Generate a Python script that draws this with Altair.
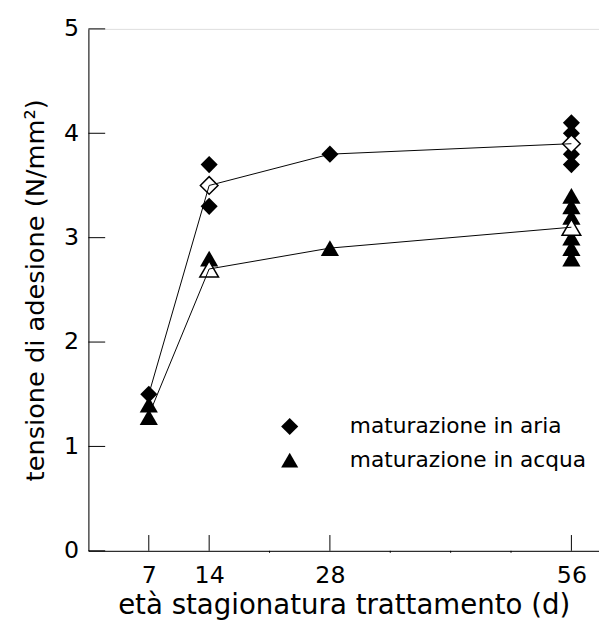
import altair as alt
import pandas as pd

# ---- data ----
series = ["maturazione in aria", "maturazione in acqua"]
aria_days = [7, 14, 14, 28, 56, 56, 56, 56]
aria_vals = [1.5, 3.7, 3.3, 3.8, 4.1, 4.0, 3.8, 3.7]
acqua_days = [7, 7, 14, 14, 28, 56, 56, 56, 56, 56, 56]
acqua_vals = [1.4, 1.28, 2.8, 2.7, 2.9, 3.4, 3.3, 3.2, 3.0, 2.9, 2.8]
mean_days = [7, 14, 28, 56]
aria_mean = [1.5, 3.5, 3.8, 3.9]
acqua_mean = [1.3, 2.7, 2.9, 3.1]
hollow_days = [14, 56]
x_labels = [7, 14, 28, 56]
x_minor = [21, 35, 42, 49]
y_ticks = [0, 1, 2, 3, 4, 5]

FONT = "DejaVu Sans"
W, H = 517.5, 529
DIA, TRI = 300, 340

aria = pd.DataFrame({"d": aria_days, "v": aria_vals, "s": series[0]})
acqua = pd.DataFrame({"d": acqua_days, "v": acqua_vals, "s": series[1]})
m_aria = pd.DataFrame({"d": mean_days, "v": aria_mean, "s": series[0]})
m_acqua = pd.DataFrame({"d": mean_days, "v": acqua_mean, "s": series[1]})
means = pd.concat([m_aria, m_acqua])
h_aria = m_aria[m_aria["d"].isin(hollow_days)]
h_acqua = m_acqua[m_acqua["d"].isin(hollow_days)]

xs = alt.Scale(domain=[0, 59.2], nice=False, zero=False)
ys = alt.Scale(domain=[0, 5], nice=False)
shape_scale = alt.Scale(domain=series, range=["diamond", "triangle-up"])

xaxis = alt.Axis(values=x_labels, tickSize=0, grid=False, labelFontSize=24,
                 labelFont=FONT, labelColor="black", labelPadding=13,
                 title="età stagionatura trattamento (d)", titleFont=FONT,
                 titleFontSize=28, titleFontWeight="normal", titleColor="black",
                 titlePadding=5, domainColor="black", domainWidth=1)
yaxis = alt.Axis(values=y_ticks, format="d", tickSize=0, grid=False,
                 labelFontSize=24, labelFont=FONT, labelColor="black",
                 labelPadding=10, title="tensione di adesione (N/mm²)",
                 titleFont=FONT, titleFontSize=26, titleFontWeight="normal",
                 titleColor="black", titlePadding=15, domainColor="black",
                 domainWidth=1)

legend = alt.Legend(title=None, orient="none", legendX=193, legendY=392,
                    symbolSize=300, symbolFillColor="black",
                    symbolStrokeColor="black", symbolStrokeWidth=0,
                    labelFont=FONT, labelFontSize=22, labelColor="black",
                    labelLimit=0, labelOffset=50, rowPadding=12, padding=0)

X = alt.X("d:Q", scale=xs, axis=xaxis)
Y = alt.Y("v:Q", scale=ys, axis=yaxis)


def pts_layer(df, size, hollow=False, leg=None):
    if hollow:
        mk = alt.Chart(df).mark_point(filled=True, fill="white", stroke="black",
                                      strokeWidth=1.5, opacity=1, size=size)
    else:
        mk = alt.Chart(df).mark_point(filled=True, color="black", opacity=1,
                                      size=size)
    if leg is not None:
        sh = alt.Shape("s:N", scale=shape_scale, legend=leg)
    else:
        sh = alt.Shape("s:N", scale=shape_scale)
    return mk.encode(x=X, y=Y, shape=sh)


filled_aria = pts_layer(aria, DIA, leg=legend)
filled_acqua = pts_layer(acqua, TRI)
hollow_aria = pts_layer(h_aria, DIA + 20, hollow=True)
hollow_acqua = pts_layer(h_acqua, TRI + 20, hollow=True)

lines = alt.Chart(means).mark_line(color="black", strokeWidth=1).encode(
    x=X, y=Y, detail="s:N")

major = alt.Chart(pd.DataFrame({"d": x_labels})).mark_rule(
    color="black", strokeWidth=1).encode(
    x=X, y=alt.value(H - 16), y2=alt.value(H))
minor = alt.Chart(pd.DataFrame({"d": x_minor})).mark_rule(
    color="black", strokeWidth=1).encode(
    x=X, y=alt.value(H), y2=alt.value(H + 2))
yt = alt.Chart(pd.DataFrame({"v": y_ticks})).mark_rule(
    color="black", strokeWidth=1).encode(
    y=Y, x=alt.value(0), x2=alt.value(17))

chart = alt.layer(major, minor, yt, filled_aria, filled_acqua, hollow_aria,
                  hollow_acqua, lines).properties(
    width=W, height=H,
    autosize=alt.AutoSizeParams(type="none"),
    padding={"left": 81.5, "top": 17, "right": 0, "bottom": 70},
).configure_view(stroke=None).configure(background="white")

chart.save("out.html", embed_options={"renderer": "svg", "actions": False})
